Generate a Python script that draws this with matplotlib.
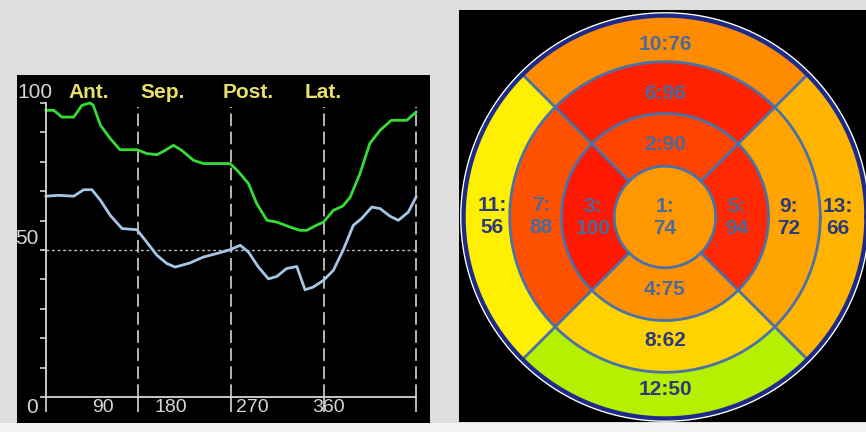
import numpy as np
import matplotlib
matplotlib.use("Agg")
import matplotlib.pyplot as plt
from matplotlib.colors import LinearSegmentedColormap, Normalize
from matplotlib.patches import Rectangle

# --- profile curves (angle in degrees vs percent) ---
green_deg = [0, 7.5, 15.5, 27, 35, 43, 46, 53, 62.5, 72, 88.5, 98, 108, 116, 124, 132,
             143.5, 153, 179, 186, 197, 205, 215, 224.5, 237.5, 247, 253.7, 263, 270,
             279.6, 289, 296, 305.5, 315, 325, 336, 351, 360]
green_val = [97.5, 97.5, 95.2, 95.2, 99.2, 100, 99.2, 92.4, 87.9, 84.1, 84.1, 82.8, 82.4,
             83.9, 85.6, 83.9, 80.5, 79.4, 79.4, 77.1, 72.6, 65.8, 60.1, 59.5, 57.8, 56.7,
             56.7, 58.4, 59.5, 63.5, 65, 68, 76, 86.2, 90.7, 94.1, 94.1, 96.9]

blue_deg = [0, 12, 27, 36.6, 44.7, 53, 62.5, 74, 88.5, 98, 108, 117.6, 125.7, 140, 153,
            166, 179, 189, 197, 206.7, 216.4, 224.5, 234, 244, 252, 260, 270, 279.6, 289,
            299, 307, 317, 325, 334.7, 342.8, 352.5, 360]
blue_val = [68.3, 68.6, 68.3, 70.5, 70.5, 66.9, 61.8, 57.3, 56.9, 52.7, 48.2, 45.4, 44.2,
            45.6, 47.6, 48.8, 50.1, 51.6, 49.3, 44.2, 40.2, 41, 43.7, 44.4, 36.5, 37.4,
            39.7, 43.1, 49.9, 58.4, 60.7, 64.6, 64.1, 61.5, 60.1, 62.9, 68]

wall_names = ["Ant.", "Sep.", "Post.", "Lat."]
wall_pos = [41.8, 113.4, 196.5, 269.5]
xtick_text = ["90", "180", "270", "360"]
xtick_text_pos = [55.5, 121.6, 200.4, 275.3]
sector_lines = [90, 180, 270, 360]

# --- bullseye segments ---
seg_ids = [1, 2, 3, 4, 5, 6, 7, 8, 9, 10, 11, 12, 13]
seg_vals = [74, 90, 100, 75, 94, 96, 88, 62, 72, 76, 56, 50, 66]
seg_ring = [0, 1, 1, 1, 1, 2, 2, 2, 2, 3, 3, 3, 3]
seg_dir = [0, 90, 180, 270, 0, 90, 180, 270, 0, 90, 180, 270, 0]

# colour scale of the polar map
cmap_vals = [50, 56, 62, 66, 72, 76, 88, 94, 100]
cmap_cols = ['#b4f000', '#fff000', '#ffd200', '#ffb400', '#ffa400', '#ff8c00',
             '#ff5200', '#ff2800', '#ff1800']

W, H = 866, 432
fig = plt.figure(figsize=(W / 100, H / 100), dpi=100, facecolor='#dedede')
# lighter strip along the bottom edge
fig.patches.append(Rectangle((0, 0), 1, 9 / H, transform=fig.transFigure,
                             facecolor='#f3f3f3', edgecolor='none', zorder=-1))
fnt = 'Liberation Sans'
grey = '#d6d6d6'
yellow = '#e6df6a'

# ---------------- left: profile plot ----------------
ax = fig.add_axes([17 / W, 9 / H, 413 / W, 348 / H], facecolor='black')
ax.set_xlim(-28.2, 373.6)
ax.set_ylim(-8.8, 109.5)

for s in ['top', 'right']:
    ax.spines[s].set_visible(False)
ax.spines['left'].set_position(('data', 0))
ax.spines['left'].set_bounds(0, 100)
ax.spines['bottom'].set_position(('data', 0))
ax.spines['bottom'].set_bounds(0, 360)
for s in ['left', 'bottom']:
    ax.spines[s].set_color(grey)
    ax.spines[s].set_linewidth(1.3)
ax.set_yticks(np.arange(0, 101, 10))
ax.set_xticks([0, 90, 180, 270, 360])
ax.set_xticklabels([])
ax.set_yticklabels([])
ax.tick_params(axis='y', direction='out', length=4, width=1.2, color=grey)
ax.tick_params(axis='x', direction='out', length=11, width=1.2, color=grey)

ax.hlines(50, 0, 360, colors='#bdbdbd', linestyles=(0, (2, 2)), linewidth=1)
ax.vlines(sector_lines, 0, 98.5, colors='#c4c4c4', linestyles=(0, (7, 3)), linewidth=1.3)

ax.plot(green_deg, green_val, color='#36dc36', lw=2)
ax.plot(blue_deg, blue_val, color='#a6c6e6', lw=2)

for name, xp in zip(wall_names, wall_pos):
    ax.text(xp, 103.4, name, color=yellow, fontsize=15, family=fnt, weight='bold',
            ha='center', va='center')
for lab, xp in zip(xtick_text, xtick_text_pos):
    ax.text(xp, -3.4, lab, color=grey, fontsize=14, family=fnt, ha='center', va='center')
ax.text(-10.7, 103.4, "100", color=grey, fontsize=15, family=fnt, ha='center', va='center')
ax.text(-18.5, 54, "50", color=grey, fontsize=15, family=fnt, ha='center', va='center')
ax.text(-13.6, -3.4, "0", color=grey, fontsize=15, family=fnt, ha='center', va='center')

# ---------------- right: bullseye ----------------
bg = fig.add_axes([459 / W, 10 / H, 407 / W, 412 / H], facecolor='black')
bg.set_xticks([])
bg.set_yticks([])
for s in bg.spines.values():
    s.set_visible(False)

pax = fig.add_axes([462 / W, 12 / H, 406 / W, 406 / H], projection='polar')
pax.set_ylim(0, 1)
pax.set_axis_off()

cmap = LinearSegmentedColormap.from_list(
    'bull', [((v - 50) / 50, c) for v, c in zip(cmap_vals, cmap_cols)])
norm = Normalize(50, 100)

edges = [0, 0.25, 0.51, 0.765, 1.0]
lab_r = [0, 0.355, 0.61, 0.85]
for sid, val, ring, d in zip(seg_ids, seg_vals, seg_ring, seg_dir):
    col = cmap(norm(val))
    tcol = '#2a3a7c' if val <= 72 else '#4a6a9c'
    if ring == 0:
        pax.bar(0, edges[1], width=2 * np.pi, bottom=0, color=col, linewidth=0)
        pax.text(0, 0, f"{sid}:\n{val}", color=tcol, fontsize=15, family=fnt,
                 weight='bold', ha='center', va='center')
        continue
    th = np.deg2rad(d)
    pax.bar(th, edges[ring + 1] - edges[ring], width=np.pi / 2, bottom=edges[ring],
            color=col, linewidth=0)
    txt = f"{sid}:{val}" if d in (90, 270) else f"{sid}:\n{val}"
    pax.text(th, lab_r[ring], txt, color=tcol, fontsize=15, family=fnt,
             weight='bold', ha='center', va='center')

full = np.linspace(0, 2 * np.pi, 400)
for r in edges[1:4]:
    pax.plot(full, np.full_like(full, r), color='#4a72aa', lw=2)
for a in [45, 135, 225, 315]:
    pax.plot([np.deg2rad(a)] * 2, [edges[1], 1.0], color='#4a72aa', lw=2)
pax.plot(full, np.full_like(full, 0.992), color='#1c2a8c', lw=3, clip_on=False)
pax.plot(full, np.full_like(full, 1.006), color='white', lw=1, clip_on=False)

fig.savefig('out.png', dpi=100, facecolor=fig.get_facecolor())
